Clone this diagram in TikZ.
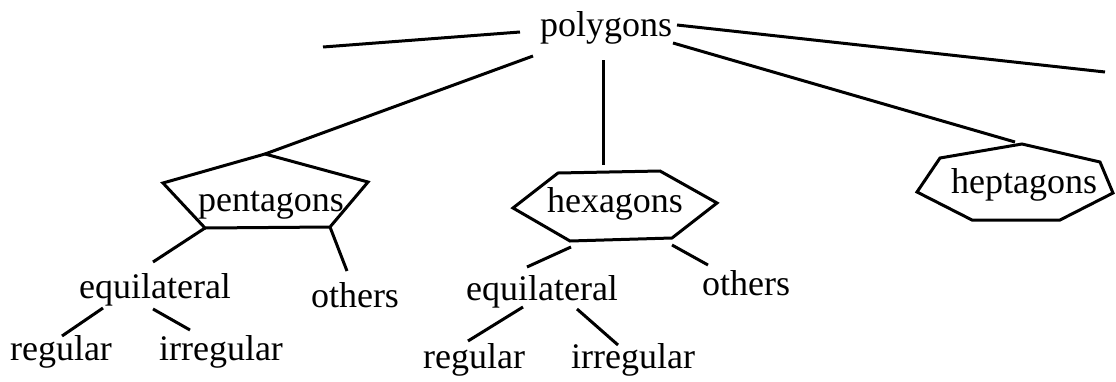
\documentclass[tikz,border=0pt]{standalone}
\usepackage{fontspec}
\setmainfont{Liberation Serif}
\begin{document}
\begin{tikzpicture}[x=1pt,y=-1pt,
  lbl/.style={anchor=base,inner sep=0pt,font=\fontsize{36}{42}\selectfont},
  edge/.style={line width=3pt},
  shapeline/.style={line width=3pt,line join=miter}]
\useasboundingbox (0,0) rectangle (1116,381);
% text nodes
\node[lbl] (poly) at (606,36) {polygons};
\node[lbl] (pent) at (271,211) {pentagons};
\node[lbl] (hex) at (615,212) {hexagons};
\node[lbl] (hept) at (1024,193) {heptagons};
\node[lbl] (eqA) at (155,298) {equilateral};
\node[lbl] (othA) at (355,307) {others};
\node[lbl] (regA) at (61,360) {regular};
\node[lbl] (irrA) at (221,360) {irregular};
\node[lbl] (eqB) at (542,300) {equilateral};
\node[lbl] (othB) at (746,295) {others};
\node[lbl] (regB) at (474,368) {regular};
\node[lbl] (irrB) at (633,368) {irregular};
% polygon vertices
\coordinate (p1) at (265,154);
\coordinate (p2) at (368,182);
\coordinate (p3) at (330,227);
\coordinate (p4) at (205,228);
\coordinate (p5) at (163,183);
\coordinate (h1) at (558,173);
\coordinate (h2) at (660,171);
\coordinate (h3) at (717,203);
\coordinate (h4) at (672,238);
\coordinate (h5) at (570,241);
\coordinate (h6) at (513,208);
\coordinate (s1) at (1022,144);
\coordinate (s2) at (1100,162);
\coordinate (s3) at (1113,193);
\coordinate (s4) at (1060,220);
\coordinate (s5) at (972,220);
\coordinate (s6) at (917,192);
\coordinate (s7) at (940,158);
\draw[shapeline] (p1)--(p2)--(p3)--(p4)--(p5)--cycle;
\draw[shapeline] (h1)--(h2)--(h3)--(h4)--(h5)--(h6)--cycle;
\draw[shapeline] (s1)--(s2)--(s3)--(s4)--(s5)--(s6)--(s7)--cycle;
% connector ends
\coordinate (a1) at (323,47);
\coordinate (a2) at (520,32);
\coordinate (b1) at (677,25);
\coordinate (b2) at (1105,72);
\coordinate (c1) at (533,56);
\coordinate (d1) at (603,60);
\coordinate (d2) at (603,165);
\coordinate (e1) at (673,43);
\coordinate (e2) at (1015,142);
\coordinate (f1) at (153,262);
\coordinate (f2) at (347,271);
\coordinate (g1) at (571,247);
\coordinate (g2) at (527,267);
\coordinate (g3) at (672,245);
\coordinate (g4) at (708,265);
\coordinate (k1) at (103,308);
\coordinate (k2) at (62,336);
\coordinate (k3) at (153,309);
\coordinate (k4) at (190,330);
\coordinate (m1) at (523,307);
\coordinate (m2) at (468,341);
\coordinate (m3) at (577,309);
\coordinate (m4) at (618,345);
\draw[edge] (a1)--(a2);
\draw[edge] (b1)--(b2);
\draw[edge] (c1)--(p1);
\draw[edge] (d1)--(d2);
\draw[edge] (e1)--(e2);
\draw[edge] (p4)--(f1);
\draw[edge] (p3)--(f2);
\draw[edge] (g1)--(g2);
\draw[edge] (g3)--(g4);
\draw[edge] (k1)--(k2);
\draw[edge] (k3)--(k4);
\draw[edge] (m1)--(m2);
\draw[edge] (m3)--(m4);
\end{tikzpicture}
\end{document}
